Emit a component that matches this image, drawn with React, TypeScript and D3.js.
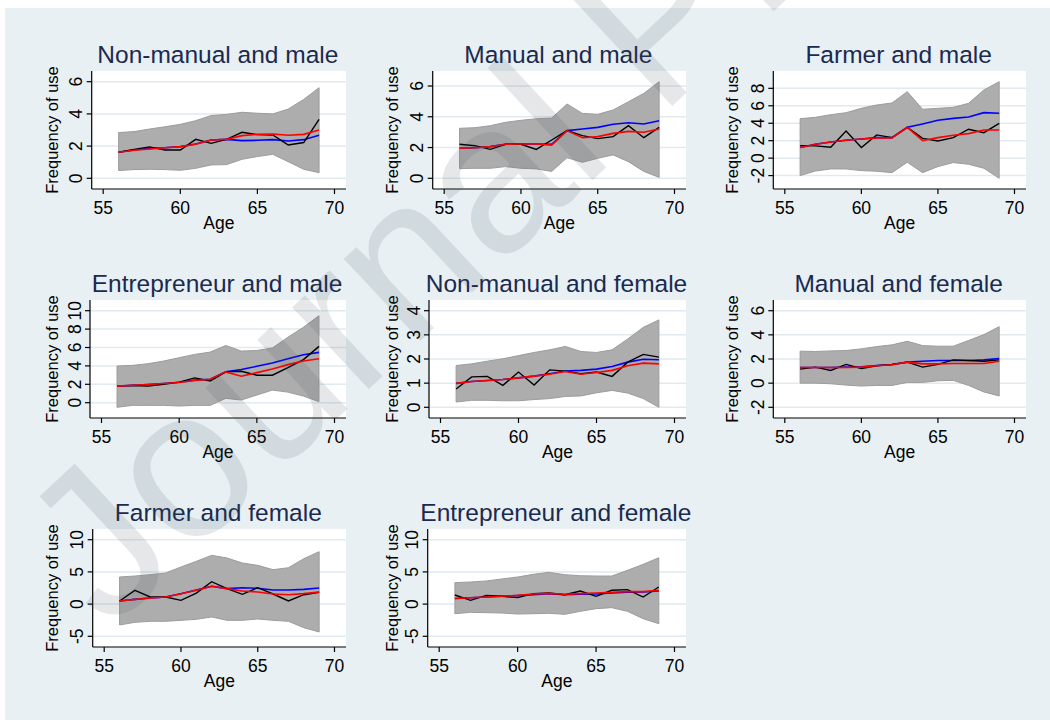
import React from 'react';
import * as d3 from 'd3';

// ---------- data ----------
const ages = [56, 57, 58, 59, 60, 61, 62, 63, 64, 65, 66, 67, 68, 69];
const xTicks = [55, 60, 65, 70];
const xTitle = 'Age';
const yTitle = 'Frequency of use';
const watermark = 'Journal Pre-proof';

const titles = [
  'Non-manual and male',
  'Manual and male',
  'Farmer and male',
  'Entrepreneur and male',
  'Non-manual and female',
  'Manual and female',
  'Farmer and female',
  'Entrepreneur and female',
];

const yTicksList = [
  [0, 2, 4, 6],
  [0, 2, 4, 6],
  [-2, 0, 2, 4, 6, 8],
  [0, 2, 4, 6, 8, 10],
  [0, 1, 2, 3, 4],
  [-2, 0, 2, 4, 6],
  [-5, 0, 5, 10],
  [-5, 0, 5, 10],
];

// Non-manual and male
const upperNMM = [2.84, 2.9, 3.06, 3.2, 3.35, 3.58, 3.9, 3.97, 4.1, 4.04, 4.0, 4.3, 4.9, 5.63];
const lowerNMM = [0.48, 0.54, 0.56, 0.54, 0.5, 0.62, 0.83, 0.85, 1.18, 1.35, 1.49, 1.03, 0.56, 0.35];
const observedNMM = [1.62, 1.8, 1.95, 1.76, 1.76, 2.42, 2.17, 2.42, 2.86, 2.71, 2.69, 2.07, 2.22, 3.66];
const predictedNMM = [1.62, 1.76, 1.86, 1.9, 1.97, 2.13, 2.38, 2.42, 2.34, 2.36, 2.4, 2.32, 2.4, 2.67];
const smoothedNMM = [1.62, 1.74, 1.82, 1.9, 1.97, 2.11, 2.38, 2.42, 2.65, 2.73, 2.75, 2.67, 2.73, 3.0];

// Manual and male
const upperMM = [3.25, 3.29, 3.42, 3.64, 3.77, 3.87, 3.92, 4.83, 4.22, 4.16, 4.44, 4.98, 5.52, 6.28];
const lowerMM = [0.63, 0.65, 0.65, 0.76, 0.65, 0.61, 0.45, 1.34, 1.04, 1.3, 1.52, 1.08, 0.45, 0.06];
const observedMM = [2.21, 2.12, 1.88, 2.21, 2.21, 1.88, 2.49, 3.1, 2.77, 2.58, 2.71, 3.42, 2.64, 3.31];
const predictedMM = [1.95, 1.99, 2.06, 2.21, 2.23, 2.23, 2.21, 3.1, 3.2, 3.31, 3.51, 3.61, 3.53, 3.74];
const smoothedMM = [1.95, 1.99, 2.06, 2.21, 2.23, 2.23, 2.16, 3.1, 2.64, 2.71, 2.92, 3.05, 2.99, 3.2];

// Farmer and male
const upperFM = [4.52, 4.68, 4.98, 5.21, 5.71, 6.09, 6.32, 7.62, 5.6, 5.71, 5.82, 6.28, 7.81, 8.76];
const lowerFM = [-2.0, -1.47, -1.24, -1.24, -1.43, -1.5, -1.66, -0.47, -1.66, -0.97, -0.51, -0.7, -1.16, -2.31];
const observedFM = [1.44, 1.4, 1.24, 3.11, 1.21, 2.66, 2.35, 3.53, 2.27, 1.97, 2.35, 3.31, 2.92, 3.99];
const predictedFM = [1.21, 1.59, 1.85, 2.05, 2.2, 2.35, 2.35, 3.53, 3.92, 4.34, 4.56, 4.72, 5.21, 5.14];
const smoothedFM = [1.21, 1.59, 1.85, 2.05, 2.2, 2.31, 2.31, 3.53, 2.0, 2.35, 2.62, 2.81, 3.23, 3.23];

// Entrepreneur and male
const upperEM = [3.99, 4.06, 4.24, 4.53, 4.89, 5.25, 5.5, 6.22, 5.61, 5.68, 5.94, 7.12, 8.2, 9.46];
const lowerEM = [-0.5, -0.29, -0.29, -0.29, -0.36, -0.29, -0.29, 0.47, 0.29, 0.83, 1.37, 1.15, 0.72, 0.11];
const observedEM = [1.8, 1.87, 1.8, 2.01, 2.23, 2.7, 2.37, 3.35, 3.42, 2.99, 2.99, 3.81, 4.68, 6.12];
const predictedEM = [1.8, 1.9, 1.98, 2.09, 2.23, 2.45, 2.55, 3.35, 3.6, 3.96, 4.32, 4.78, 5.22, 5.47];
const smoothedEM = [1.8, 1.9, 1.98, 2.09, 2.19, 2.41, 2.55, 3.35, 2.88, 3.27, 3.67, 4.14, 4.53, 4.78];

// Non-manual and female
const upperNMF = [1.73, 1.8, 1.91, 2.01, 2.14, 2.27, 2.38, 2.52, 2.31, 2.27, 2.38, 2.83, 3.31, 3.62];
const lowerNMF = [0.22, 0.29, 0.29, 0.27, 0.27, 0.32, 0.36, 0.45, 0.47, 0.6, 0.7, 0.59, 0.36, 0.0];
const observedNMF = [0.76, 1.26, 1.28, 0.91, 1.46, 0.92, 1.55, 1.5, 1.39, 1.46, 1.28, 1.87, 2.19, 2.08];
const predictedNMF = [0.99, 1.07, 1.11, 1.15, 1.22, 1.29, 1.39, 1.5, 1.53, 1.58, 1.69, 1.87, 1.99, 1.97];
const smoothedNMF = [0.99, 1.07, 1.11, 1.15, 1.22, 1.29, 1.37, 1.48, 1.37, 1.44, 1.53, 1.72, 1.83, 1.8];

// Manual and female
const upperMF = [2.65, 2.62, 2.67, 2.7, 2.84, 3.03, 3.17, 3.47, 3.11, 3.06, 3.06, 3.53, 4.02, 4.68];
const lowerMF = [0.0, 0.0, -0.05, -0.16, -0.24, -0.19, -0.19, 0.06, 0.06, 0.2, 0.23, -0.19, -0.73, -1.06];
const observedMF = [1.16, 1.33, 1.05, 1.55, 1.22, 1.44, 1.55, 1.74, 1.33, 1.55, 1.93, 1.88, 1.82, 1.93];
const predictedMF = [1.3, 1.3, 1.3, 1.33, 1.35, 1.46, 1.55, 1.74, 1.82, 1.88, 1.88, 1.88, 1.93, 2.04];
const smoothedMF = [1.3, 1.3, 1.3, 1.3, 1.33, 1.44, 1.52, 1.74, 1.6, 1.6, 1.63, 1.63, 1.63, 1.82];

// Farmer and female
const upperFF = [4.21, 4.36, 4.57, 4.83, 5.76, 6.64, 7.57, 7.16, 6.38, 6.02, 5.34, 5.65, 7.05, 8.14];
const lowerFF = [-3.24, -2.83, -2.67, -2.67, -2.52, -2.36, -2.0, -2.52, -2.52, -2.31, -2.52, -2.67, -3.66, -4.33];
const observedFF = [0.48, 2.14, 1.1, 1.1, 0.58, 1.72, 3.48, 2.4, 1.52, 2.55, 1.57, 0.48, 1.46, 1.83];
const predictedFF = [0.48, 0.74, 0.95, 1.1, 1.62, 2.19, 2.76, 2.4, 2.55, 2.45, 2.19, 2.19, 2.29, 2.5];
const smoothedFF = [0.48, 0.74, 0.95, 1.1, 1.62, 2.14, 2.76, 2.4, 2.03, 1.88, 1.57, 1.46, 1.62, 1.88];

// Entrepreneur and female
const upperEF = [3.33, 3.43, 3.59, 3.9, 4.21, 4.62, 4.93, 4.57, 4.41, 4.36, 4.36, 5.24, 6.17, 7.2];
const lowerEF = [-1.49, -1.28, -1.33, -1.38, -1.54, -1.49, -1.43, -1.59, -1.12, -0.71, -0.55, -1.12, -2.26, -3.04];
const observedEF = [1.41, 0.58, 1.36, 1.21, 1.0, 1.62, 1.72, 1.46, 2.03, 1.21, 2.14, 2.24, 1.1, 2.65];
const predictedEF = [0.88, 0.98, 1.1, 1.21, 1.31, 1.46, 1.62, 1.46, 1.52, 1.57, 1.72, 1.83, 1.88, 2.03];
const smoothedEF = [0.88, 0.98, 1.1, 1.21, 1.36, 1.57, 1.67, 1.52, 1.62, 1.72, 1.83, 1.93, 1.93, 2.14];

const uppers = [upperNMM, upperMM, upperFM, upperEM, upperNMF, upperMF, upperFF, upperEF];
const lowers = [lowerNMM, lowerMM, lowerFM, lowerEM, lowerNMF, lowerMF, lowerFF, lowerEF];
const observeds = [observedNMM, observedMM, observedFM, observedEM, observedNMF, observedMF, observedFF, observedEF];
const predicteds = [predictedNMM, predictedMM, predictedFM, predictedEM, predictedNMF, predictedMF, predictedFF, predictedEF];
const smootheds = [smoothedNMM, smoothedMM, smoothedFM, smoothedEM, smoothedNMF, smoothedMF, smoothedFF, smoothedEF];

// ---------- layout ----------
const W = 1050;
const H = 720;
const plotLefts = [91.7, 432.7, 773.3, 90, 429, 773.3, 92.7, 427.7];
const colRights = [346, 686, 1026];
const rowTops = [71, 300, 529];
const plotH = 118;
const padX = 11.5;
const padY = 10.7;
const FONT = "'Liberation Sans', Arial, Helvetica, sans-serif";

const BG = '#e8f0f3';
const GRID = '#e1eaee';
const BAND = '#adadad';
const BAND_EDGE = '#9c9c9c';
const TITLE_COLOR = '#1a2a50';

function Panel({ i }: { i: number }) {
  const col = i % 3;
  const row = Math.floor(i / 3);
  const left = plotLefts[i];
  const right = colRights[col];
  const top = rowTops[row];
  const bottom = top + plotH;

  const yTicks = yTicksList[i];
  const allY = [...yTicks, ...uppers[i], ...lowers[i], ...observeds[i], ...predicteds[i], ...smootheds[i]];
  const yExt = d3.extent(allY) as [number, number];
  const xExt = d3.extent([...xTicks, ...ages]) as [number, number];

  const x = d3.scaleLinear().domain(xExt).range([left + padX, right - padX]);
  const y = d3.scaleLinear().domain(yExt).range([bottom - padY, top + padY]);

  const area = d3
    .area<number>()
    .x((_, k) => x(ages[k]))
    .y0((_, k) => y(lowers[i][k]))
    .y1((d) => y(d));
  const line = d3
    .line<number>()
    .x((_, k) => x(ages[k]))
    .y((d) => y(d));

  const yTitleX = 52 + col * 340;
  const midY = (top + bottom) / 2;
  const midX = (left + right) / 2;

  return (
    <g>
      <rect x={left} y={top} width={right - left} height={plotH} fill="#ffffff" />
      {yTicks.map((t) => (
        <line key={'g' + t} x1={left} x2={right} y1={y(t)} y2={y(t)} stroke={GRID} strokeWidth={1.5} />
      ))}
      <path d={area(uppers[i]) || ''} fill={BAND} stroke={BAND_EDGE} strokeWidth={1} />
      <path d={line(predicteds[i]) || ''} fill="none" stroke="#0000ff" strokeWidth={1.6} />
      <path d={line(observeds[i]) || ''} fill="none" stroke="#000000" strokeWidth={1.4} />
      <path d={line(smootheds[i]) || ''} fill="none" stroke="#ff0000" strokeWidth={1.6} />
      {/* axes */}
      <line x1={left} x2={left} y1={top} y2={bottom} stroke="#000" strokeWidth={1.2} />
      <line x1={left} x2={right} y1={bottom} y2={bottom} stroke="#000" strokeWidth={1.2} />
      {yTicks.map((t) => (
        <g key={'y' + t}>
          <line x1={left - 5} x2={left} y1={y(t)} y2={y(t)} stroke="#000" strokeWidth={1.2} />
          <text
            transform={`translate(${left - 9.5},${y(t)}) rotate(-90)`}
            textAnchor="middle"
            fontSize={17.5}
            fontFamily={FONT}
            fill="#000"
          >
            {t}
          </text>
        </g>
      ))}
      {xTicks.map((t) => (
        <g key={'x' + t}>
          <line x1={x(t)} x2={x(t)} y1={bottom} y2={bottom + 5} stroke="#000" strokeWidth={1.2} />
          <text x={x(t)} y={bottom + 25} textAnchor="middle" fontSize={17.5} fontFamily={FONT} fill="#000">
            {t}
          </text>
        </g>
      ))}
      <text x={midX} y={bottom + 39.5} textAnchor="middle" fontSize={17.5} fontFamily={FONT} fill="#000">
        {xTitle}
      </text>
      <text
        transform={`translate(${yTitleX},${midY}) rotate(-90)`}
        textAnchor="middle"
        dy="0.35em"
        fontSize={16.5}
        fontFamily={FONT}
        fill="#000"
      >
        {yTitle}
      </text>
      <text x={midX - 1} y={top - 8} textAnchor="middle" fontSize={24.5} fontFamily={FONT} fill={TITLE_COLOR}>
        {titles[i]}
      </text>
    </g>
  );
}

export default function App() {
  return (
    <svg
      width={W}
      height={H}
      viewBox={`0 0 ${W} ${H}`}
      style={{ position: 'absolute', left: 0, top: 0, display: 'block' }}
    >
      <rect x={0} y={0} width={W} height={H} fill="#ffffff" />
      <rect x={5} y={8} width={W - 5} height={H - 8} fill={BG} />
      {titles.map((_, i) => (
        <Panel key={i} i={i} />
      ))}
      <text
        transform="translate(108,632) rotate(-43)"
        fontSize={212}
        fontFamily={FONT}
        fill="#3f4f58"
        opacity={0.13}
      >
        {watermark}
      </text>
    </svg>
  );
}
